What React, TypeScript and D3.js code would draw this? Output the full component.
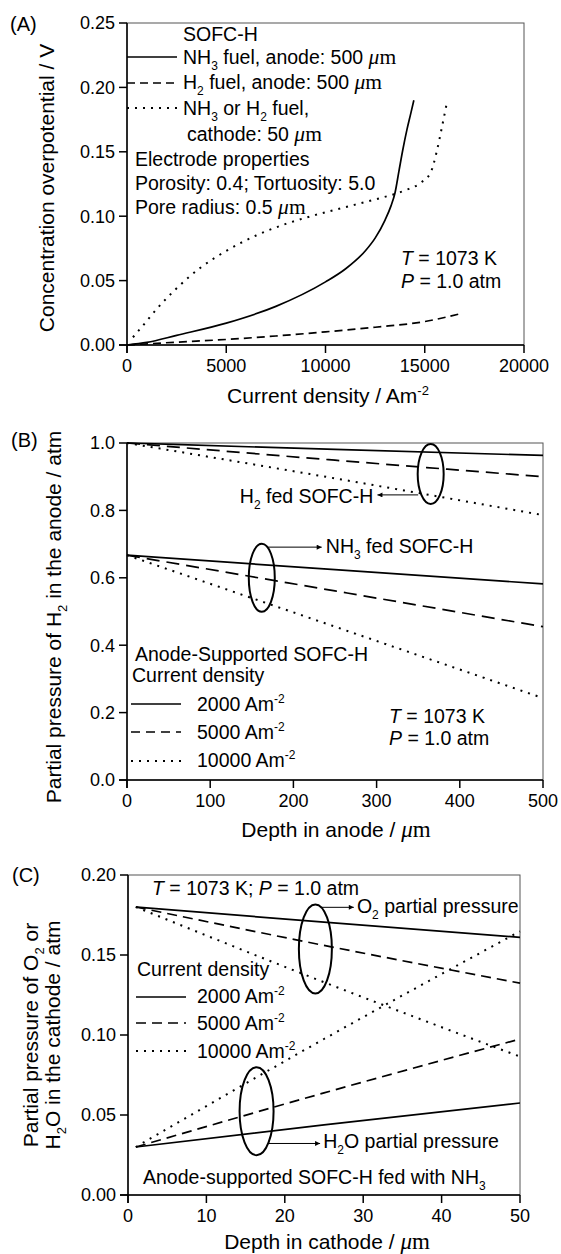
import React from 'react';
import * as d3 from 'd3';

// ---------- Panel A: concentration overpotential vs current density
const aTicksX = [0, 5000, 10000, 15000, 20000];
const aTicksY = [0, 0.05, 0.1, 0.15, 0.2, 0.25];
const nh3AnodeJ = [0, 1000, 2500, 5000, 7500, 10000, 11000, 12000, 12500, 13000, 13300, 13500, 13700, 13900, 14100, 14300, 14450];
const nh3AnodeEta = [0, 0.002, 0.0075, 0.017, 0.03, 0.049, 0.059, 0.073, 0.083, 0.097, 0.108, 0.118, 0.135, 0.152, 0.167, 0.18, 0.19];
const h2AnodeJ = [0, 2500, 5000, 7500, 10000, 12500, 15000, 16800];
const h2AnodeEta = [0, 0.0022, 0.0043, 0.007, 0.0102, 0.0138, 0.0182, 0.0243];
const cathodeJ = [300, 800, 1500, 2500, 3700, 5000, 6500, 8000, 9500, 11000, 12500, 14000, 14800, 15300, 15600, 15850, 16100];
const cathodeEta = [0.006, 0.015, 0.028, 0.044, 0.06, 0.073, 0.085, 0.094, 0.101, 0.107, 0.113, 0.12, 0.126, 0.134, 0.15, 0.168, 0.187];

// ---------- Panel B: H2 partial pressure in the anode
const bTicksX = [0, 100, 200, 300, 400, 500];
const bTicksY = [0, 0.2, 0.4, 0.6, 0.8, 1.0];
const bDepth = [0, 250, 500];
const bH2Fed2000 = [1.0, 0.981, 0.963];
const bH2Fed5000 = [1.0, 0.949, 0.9];
const bH2Fed10000 = [1.0, 0.895, 0.786];
const bNH3Fed2000 = [0.667, 0.624, 0.582];
const bNH3Fed5000 = [0.667, 0.561, 0.455];
const bNH3Fed10000 = [0.667, 0.455, 0.243];

// ---------- Panel C: O2 / H2O partial pressure in the cathode
const cTicksX = [0, 10, 20, 30, 40, 50];
const cTicksY = [0, 0.05, 0.1, 0.15, 0.2];
const cDepth = [1, 25, 50];
const cO2_2000 = [0.18, 0.1705, 0.161];
const cO2_5000 = [0.18, 0.156, 0.1324];
const cO2_10000 = [0.18, 0.133, 0.0865];
const cH2O_2000 = [0.03, 0.0438, 0.0575];
const cH2O_5000 = [0.03, 0.0638, 0.0975];
const cH2O_10000 = [0.03, 0.0975, 0.1648];

const SANS = "'Liberation Sans', Arial, Helvetica, sans-serif";
const SERIF = "'Liberation Serif', 'Times New Roman', serif";
const DOT = '2 6';

type Seg = [string, string?];

// text with sub/superscripts and the serif "μm"
function rich(segs: Seg[], base = 19.5) {
  let shift = 0;
  return segs.map(([t, k], i) => {
    const target = k === 'sub' ? 6 : k === 'sup' ? -8 : 0;
    const dy = target - shift;
    shift = target;
    const p: any = { key: i };
    if (dy) p.dy = dy;
    if (k === 'sub' || k === 'sup') p.fontSize = Math.round(base * 0.62);
    if (k === 'mu') { p.fontFamily = SERIF; p.fontStyle = 'italic'; p.fontSize = base + 2; }
    if (k === 'serif') { p.fontFamily = SERIF; p.fontSize = base + 2; }
    return <tspan {...p}>{t}</tspan>;
  });
}
const MU: Seg[] = [['μ', 'mu'], ['m', 'serif']];

function Frame({ x, y, ticksX, ticksY, fx, fy }: any) {
  const [l, r] = x.range();
  const [b, t] = y.range();
  return (
    <g fontFamily={SANS} fontSize={18}>
      <rect x={l} y={t} width={r - l} height={b - t} fill="none" stroke="#555" strokeWidth={1} />
      <line x1={l} x2={l} y1={t} y2={b + 8} stroke="#000" strokeWidth={1.5} />
      <line x1={l - 8} x2={r} y1={b} y2={b} stroke="#000" strokeWidth={1.5} />
      {ticksY.map((v: number) => (
        <g key={'y' + v}>
          <line x1={l - 8} x2={l} y1={y(v)} y2={y(v)} stroke="#000" strokeWidth={1.5} />
          <text x={l - 12} y={y(v)} dy="0.36em" textAnchor="end">{fy(v)}</text>
        </g>
      ))}
      {ticksX.map((v: number) => (
        <g key={'x' + v}>
          <line x1={x(v)} x2={x(v)} y1={b} y2={b + 8} stroke="#000" strokeWidth={1.5} />
          <text x={x(v)} y={b + 27} textAnchor="middle">{fx(v)}</text>
        </g>
      ))}
    </g>
  );
}

function path(x: any, y: any, xs: number[], ys: number[]) {
  const gen = d3.line<number>().x((_, i) => x(xs[i])).y((d) => y(d)).curve(d3.curveMonotoneX);
  return gen(ys) || '';
}

function Series({ d, dash, w = 1.7 }: { d: string; dash?: string; w?: number }) {
  return <path d={d} fill="none" stroke="#000" strokeWidth={dash === DOT ? 2 : w} strokeDasharray={dash} />;
}

export default function App() {
  const xA = d3.scaleLinear().domain([0, 20000]).range([127, 524]);
  const yA = d3.scaleLinear().domain([0, 0.25]).range([345, 23]);
  const xB = d3.scaleLinear().domain([0, 500]).range([127, 543]);
  const yB = d3.scaleLinear().domain([0, 1]).range([780, 443]);
  const xC = d3.scaleLinear().domain([0, 50]).range([128, 520]);
  const yC = d3.scaleLinear().domain([0, 0.2]).range([1195, 875]);

  const f0 = d3.format('d');
  const f2 = d3.format('.2f');
  const f1 = d3.format('.1f');

  const dashA = '8 5';
  const dashB = '13 7';
  const dashC = '10 6';

  const arrow = (x1: number, x2: number, y: number) => (
    <line x1={x1} x2={x2} y1={y} y2={y} stroke="#000" strokeWidth={1} markerEnd="url(#ah)" />
  );

  return (
    <svg width={561} height={1254} style={{ position: 'absolute', left: 0, top: 0, background: '#fff' }}
      fontFamily={SANS} fill="#000">
      <defs>
        <marker id="ah" viewBox="0 0 10 10" refX={10} refY={5} markerWidth={7} markerHeight={5} orient="auto"
          markerUnits="userSpaceOnUse">
          <path d="M0,0 L10,5 L0,10 z" fill="#000" />
        </marker>
      </defs>
      <rect width={561} height={1254} fill="#fff" />

      {/* ================= Panel A ================= */}
      <text x={10} y={31} fontSize={20}>(A)</text>
      <Frame x={xA} y={yA} ticksX={aTicksX} ticksY={aTicksY} fx={f0} fy={f2} />
      <Series d={path(xA, yA, nh3AnodeJ, nh3AnodeEta)} />
      <Series d={path(xA, yA, h2AnodeJ, h2AnodeEta)} dash={dashA} />
      <Series d={path(xA, yA, cathodeJ, cathodeEta)} dash={DOT} />
      <g fontSize={19.5} style={{ whiteSpace: 'pre' }}>
        <text x={183} y={41}>SOFC-H</text>
        <line x1={127} x2={177} y1={57} y2={57} stroke="#000" strokeWidth={1.7} />
        <text x={183} y={64}>{rich([['NH'], ['3', 'sub'], [' fuel, anode: 500  '], ...MU])}</text>
        <line x1={127} x2={177} y1={83} y2={83} stroke="#000" strokeWidth={1.7} strokeDasharray={dashA} />
        <text x={183} y={89}>{rich([['H'], ['2', 'sub'], [' fuel, anode: 500  '], ...MU])}</text>
        <line x1={127} x2={177} y1={108} y2={108} stroke="#000" strokeWidth={2} strokeDasharray={DOT} />
        <text x={183} y={115}>{rich([['NH'], ['3', 'sub'], [' or H'], ['2', 'sub'], [' fuel,']])}</text>
        <text x={187} y={141}>{rich([['cathode: 50  '], ...MU])}</text>
        <text x={135} y={166}>Electrode properties</text>
        <text x={135} y={190}>Porosity: 0.4; Tortuosity: 5.0</text>
        <text x={135} y={214}>{rich([['Pore radius: 0.5 '], ...MU])}</text>
        <text x={401} y={265}><tspan fontStyle="italic">T</tspan> = 1073 K</text>
        <text x={401} y={288}><tspan fontStyle="italic">P</tspan> = 1.0 atm</text>
      </g>
      <text transform="translate(54,188) rotate(-90)" textAnchor="middle" fontSize={21}>
        Concentration overpotential / V
      </text>
      <text x={328} y={403} textAnchor="middle" fontSize={21}>
        {rich([['Current density / Am'], ['-2', 'sup']], 21)}
      </text>

      {/* ================= Panel B ================= */}
      <text x={11} y={447} fontSize={20}>(B)</text>
      <Frame x={xB} y={yB} ticksX={bTicksX} ticksY={bTicksY} fx={f0} fy={f1} />
      <Series d={path(xB, yB, bDepth, bH2Fed2000)} />
      <Series d={path(xB, yB, bDepth, bH2Fed5000)} dash={dashB} />
      <Series d={path(xB, yB, bDepth, bH2Fed10000)} dash={DOT} />
      <Series d={path(xB, yB, bDepth, bNH3Fed2000)} />
      <Series d={path(xB, yB, bDepth, bNH3Fed5000)} dash={dashB} />
      <Series d={path(xB, yB, bDepth, bNH3Fed10000)} dash={DOT} />
      <ellipse cx={xB(365)} cy={yB(0.908)} rx={13} ry={30} fill="none" stroke="#000" strokeWidth={2} />
      <ellipse cx={xB(162)} cy={yB(0.6)} rx={13} ry={34} fill="none" stroke="#000" strokeWidth={2} />
      {arrow(xB(350), xB(301), yB(0.846))}
      {arrow(xB(168), xB(234), yB(0.691))}
      <g fontSize={19.5} style={{ whiteSpace: 'pre' }}>
        <text x={xB(296)} y={yB(0.822)} textAnchor="end">{rich([['H'], ['2', 'sub'], [' fed SOFC-H']])}</text>
        <text x={xB(239)} y={yB(0.674)}>{rich([['NH'], ['3', 'sub'], [' fed SOFC-H']])}</text>
        <text x={135} y={661}>Anode-Supported SOFC-H</text>
        <text x={132} y={682}>Current density</text>
        <line x1={131} x2={181} y1={704} y2={704} stroke="#000" strokeWidth={1.7} />
        <line x1={131} x2={181} y1={732} y2={732} stroke="#000" strokeWidth={1.7} strokeDasharray="9 6" />
        <line x1={131} x2={181} y1={761} y2={761} stroke="#000" strokeWidth={2} strokeDasharray={DOT} />
        <text x={197} y={711}>{rich([['2000 Am'], ['-2', 'sup']])}</text>
        <text x={197} y={739}>{rich([['5000 Am'], ['-2', 'sup']])}</text>
        <text x={197} y={767}>{rich([['10000 Am'], ['-2', 'sup']])}</text>
        <text x={389} y={723}><tspan fontStyle="italic">T</tspan> = 1073 K</text>
        <text x={389} y={745}><tspan fontStyle="italic">P</tspan> = 1.0 atm</text>
      </g>
      <text transform="translate(61,617) rotate(-90)" textAnchor="middle" fontSize={21} style={{ whiteSpace: 'pre' }}>
        {rich([['Partial pressure of H'], ['2', 'sub'], [' in the anode / atm']], 21)}
      </text>
      <text x={336} y={837} textAnchor="middle" fontSize={21} style={{ whiteSpace: 'pre' }}>
        {rich([['Depth in anode / '], ...MU], 21)}
      </text>

      {/* ================= Panel C ================= */}
      <text x={12} y={882} fontSize={20}>(C)</text>
      <Frame x={xC} y={yC} ticksX={cTicksX} ticksY={cTicksY} fx={f0} fy={f2} />
      <Series d={path(xC, yC, cDepth, cO2_2000)} />
      <Series d={path(xC, yC, cDepth, cO2_5000)} dash={dashC} />
      <Series d={path(xC, yC, cDepth, cO2_10000)} dash={DOT} />
      <Series d={path(xC, yC, cDepth, cH2O_2000)} />
      <Series d={path(xC, yC, cDepth, cH2O_5000)} dash={dashC} />
      <Series d={path(xC, yC, cDepth, cH2O_10000)} dash={DOT} />
      <ellipse cx={xC(23.9)} cy={yC(0.1538)} rx={16.5} ry={44.5} fill="none" stroke="#000" strokeWidth={2} />
      <ellipse cx={xC(16.4)} cy={yC(0.0524)} rx={17} ry={44} fill="none" stroke="#000" strokeWidth={2} />
      {arrow(xC(24.6), xC(28.8), yC(0.1798))}
      {arrow(xC(17.9), xC(24.5), yC(0.0322))}
      <g fontSize={19.5} style={{ whiteSpace: 'pre' }}>
        <text x={152} y={895}><tspan fontStyle="italic">T</tspan> = 1073 K; <tspan fontStyle="italic">P</tspan> = 1.0 atm</text>
        <text x={xC(29.2)} y={yC(0.1765)}>{rich([['O'], ['2', 'sub'], [' partial pressure']])}</text>
        <text x={xC(24.9)} y={yC(0.0295)}>{rich([['H'], ['2', 'sub'], ['O partial pressure']])}</text>
        <text x={143} y={1184}>{rich([['Anode-supported SOFC-H fed with NH'], ['3', 'sub']])}</text>
        <text x={137} y={976}>Current density</text>
        <line x1={136} x2={186} y1={997} y2={997} stroke="#000" strokeWidth={1.7} />
        <line x1={136} x2={186} y1={1023} y2={1023} stroke="#000" strokeWidth={1.7} strokeDasharray={dashC} />
        <line x1={136} x2={186} y1={1051} y2={1051} stroke="#000" strokeWidth={2} strokeDasharray={DOT} />
        <text x={197} y={1003}>{rich([['2000 Am'], ['-2', 'sup']])}</text>
        <text x={197} y={1030}>{rich([['5000 Am'], ['-2', 'sup']])}</text>
        <text x={197} y={1058}>{rich([['10000 Am'], ['-2', 'sup']])}</text>
      </g>
      <g fontSize={21} style={{ whiteSpace: 'pre' }}>
        <text transform="translate(38,1035) rotate(-90)" textAnchor="middle">
          {rich([['Partial pressure of O'], ['2', 'sub'], [' or']], 21)}
        </text>
        <text transform="translate(60,1035) rotate(-90)" textAnchor="middle">
          {rich([['H'], ['2', 'sub'], ['O in the cathode / atm']], 21)}
        </text>
        <text x={327} y={1249} textAnchor="middle">{rich([['Depth in cathode / '], ...MU], 21)}</text>
      </g>
    </svg>
  );
}
